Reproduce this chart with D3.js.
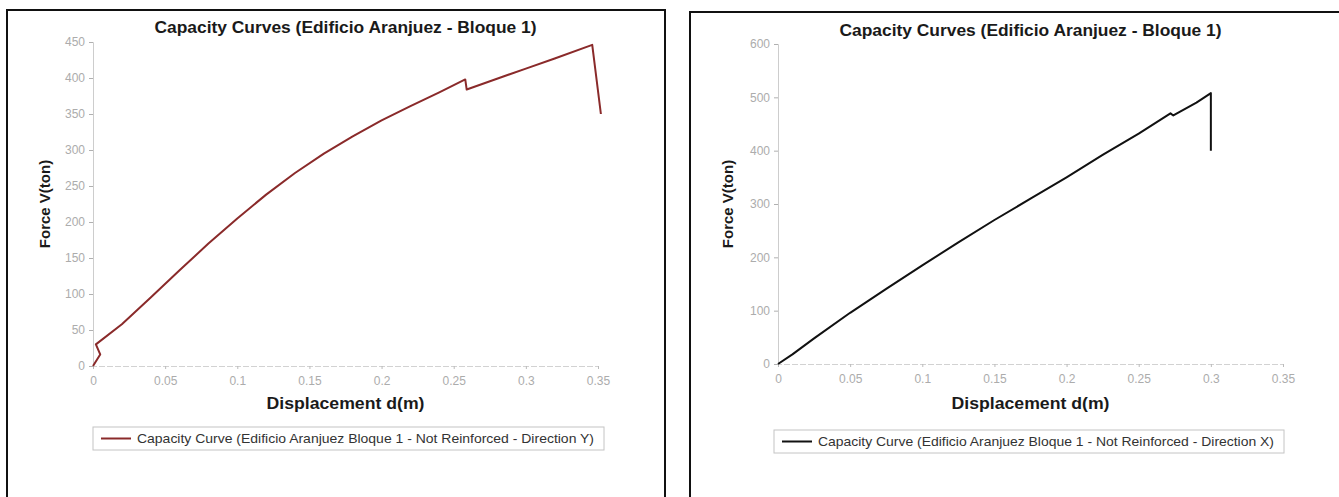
<!DOCTYPE html>
<html>
<head>
<meta charset="utf-8">
<script src="https://cdn.jsdelivr.net/npm/d3@7"></script>
<style>
  body { margin: 0; background: #fff; }
  svg { display: block; font-family: "Liberation Sans", Arial, sans-serif; }
</style>
</head>
<body>
<svg id="chart" width="1339" height="497"></svg>
<script>
// data
const titleText = "Capacity Curves (Edificio Aranjuez - Bloque 1)";
const xTicks = [0, 0.05, 0.1, 0.15, 0.2, 0.25, 0.3, 0.35];
const xTickLabels = ["0", "0.05", "0.1", "0.15", "0.2", "0.25", "0.3", "0.35"];

// direction Y (left)
const dispY = [0, 0.005, 0.002, 0.02, 0.04, 0.06, 0.08, 0.1, 0.12, 0.14, 0.16, 0.18, 0.2, 0.22, 0.24, 0.258, 0.259, 0.28, 0.3, 0.32, 0.346, 0.352];
const forceY = [0, 16, 30, 58, 95, 133, 170, 205, 238, 268, 295, 319, 341, 361, 380, 398, 384, 399, 413, 427, 446, 350];
const yTicksY = [0, 50, 100, 150, 200, 250, 300, 350, 400, 450];
const legendY = "Capacity Curve (Edificio Aranjuez Bloque 1 - Not Reinforced - Direction Y)";

// direction X (right)
const dispX = [0, 0.01, 0.025, 0.05, 0.075, 0.1, 0.125, 0.15, 0.175, 0.2, 0.225, 0.25, 0.272, 0.274, 0.29, 0.3, 0.3];
const forceX = [0, 18, 48, 96, 141, 185, 228, 270, 310, 350, 392, 432, 470, 466, 490, 508, 400];
const yTicksX = [0, 100, 200, 300, 400, 500, 600];
const legendX = "Capacity Curve (Edificio Aranjuez Bloque 1 - Not Reinforced - Direction X)";

const svg = d3.select("#chart");

function drawPanel(p) {
    let g = svg.append("g");

    // outer frame
    g.append("rect")
        .attr("x", p.frame[0]).attr("y", p.frame[1])
        .attr("width", p.frame[2]).attr("height", p.frame[3])
        .attr("fill", "none").attr("stroke", "#111").attr("stroke-width", 2);

    let x = d3.scaleLinear().domain([0, 0.35]).range([p.left, p.right]);
    let y = d3.scaleLinear().domain([0, p.yMax]).range([p.bottom, p.top]);

    // title (scan looks slightly stretched, so fit it to the measured width)
    g.append("text")
        .attr("x", (p.left + p.right) / 2).attr("y", p.titleY)
        .attr("text-anchor", "middle")
        .attr("font-size", "16px").attr("font-weight", "bold")
        .attr("fill", "#1a1a1a")
        .attr("textLength", 382).attr("lengthAdjust", "spacingAndGlyphs")
        .text(titleText);

    // y axis
    let yAxis = g.append("g")
        .attr("transform", `translate(${p.left},0)`)
        .call(d3.axisLeft(y).tickValues(p.yTicks).tickSize(4).tickPadding(4));
    yAxis.select(".domain").attr("stroke", "#cdcdcd");
    yAxis.selectAll(".tick line").attr("stroke", "#b0b0b0");
    yAxis.selectAll(".tick text").attr("fill", "#acacac").attr("font-size", "12px")
        .attr("font-family", "Liberation Sans, Arial, sans-serif");

    // x axis at zero
    let xAxis = g.append("g")
        .attr("transform", `translate(0,${y(0)})`)
        .call(d3.axisBottom(x).tickValues(xTicks).tickSize(3).tickPadding(7)
            .tickFormat((d, i) => xTickLabels[i]));
    xAxis.select(".domain").attr("stroke", "#d2d2d2").attr("stroke-dasharray", "6,2");
    xAxis.selectAll(".tick line").attr("stroke", "#bbb");
    xAxis.selectAll(".tick text").attr("fill", "#acacac").attr("font-size", "12px")
        .attr("font-family", "Liberation Sans, Arial, sans-serif");

    // axis titles
    g.append("text")
        .attr("x", (p.left + p.right) / 2).attr("y", p.xTitleY)
        .attr("text-anchor", "middle")
        .attr("font-size", "16px").attr("font-weight", "bold").attr("fill", "#1a1a1a")
        .attr("textLength", 158).attr("lengthAdjust", "spacingAndGlyphs")
        .text("Displacement d(m)");

    g.append("text")
        .attr("transform", `translate(${p.yTitleX},${(p.top + p.bottom) / 2}) rotate(-90)`)
        .attr("text-anchor", "middle")
        .attr("font-size", "15px").attr("font-weight", "bold").attr("fill", "#1a1a1a")
        .text("Force V(ton)");

    // curve
    let pts = p.disp.map((d, i) => [d, p.force[i]]);
    let line = d3.line().x(d => x(d[0])).y(d => y(d[1]));
    g.append("path")
        .datum(pts)
        .attr("d", line)
        .attr("fill", "none")
        .attr("stroke", p.color)
        .attr("stroke-width", 2)
        .attr("stroke-linejoin", "round");

    // legend
    let lg = g.append("g").attr("transform", `translate(${p.legend[0]},${p.legend[1]})`);
    lg.append("rect")
        .attr("width", p.legend[2]).attr("height", 23)
        .attr("fill", "none").attr("stroke", "#c4c4c4").attr("stroke-width", 1);
    lg.append("line")
        .attr("x1", 8).attr("x2", 38).attr("y1", 11.5).attr("y2", 11.5)
        .attr("stroke", p.color).attr("stroke-width", 2);
    lg.append("text")
        .attr("x", 44).attr("y", 16)
        .attr("font-size", "13px").attr("fill", "#333")
        .attr("textLength", p.legend[2] - 54).attr("lengthAdjust", "spacingAndGlyphs")
        .text(p.legendText);
}

drawPanel({
    frame: [7, 10, 658, 500],
    left: 93, right: 598, top: 42, bottom: 366, yMax: 450,
    yTicks: yTicksY, titleY: 33, xTitleY: 409, yTitleX: 50,
    disp: dispY, force: forceY, color: "#8a2a2a",
    legend: [93, 427, 511], legendText: legendY
});

drawPanel({
    frame: [690, 12, 660, 500],
    left: 778, right: 1283, top: 44, bottom: 364, yMax: 600,
    yTicks: yTicksX, titleY: 36, xTitleY: 409, yTitleX: 733,
    disp: dispX, force: forceX, color: "#111",
    legend: [774, 430, 510], legendText: legendX
});
</script>
</body>
</html>
